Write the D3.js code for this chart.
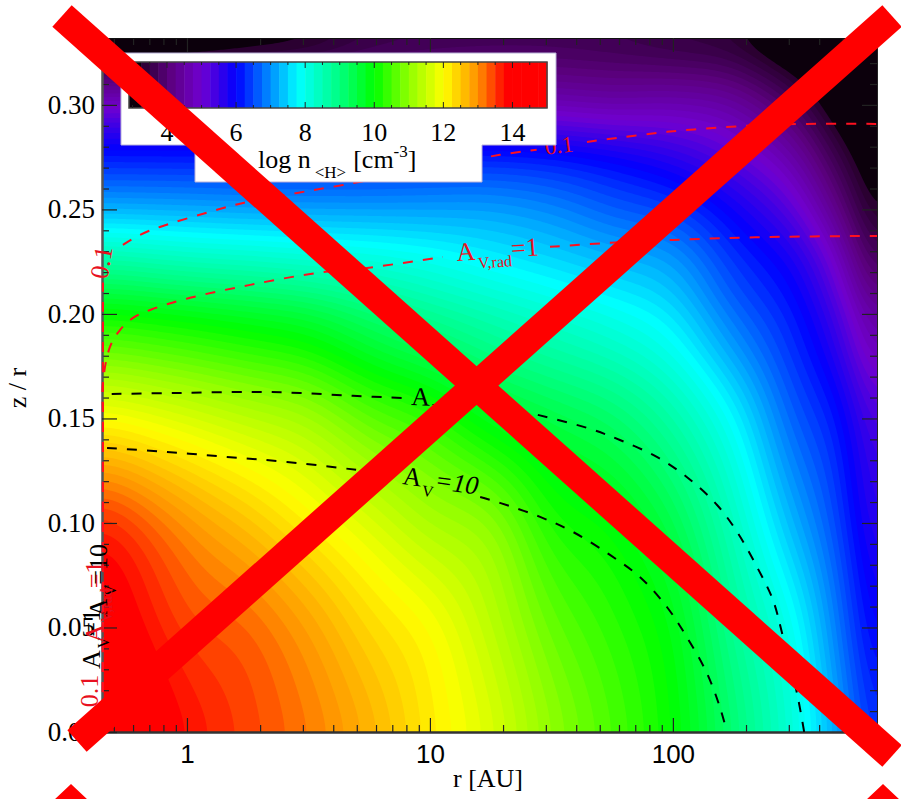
<!DOCTYPE html>
<html>
<head>
<meta charset="utf-8">
<script src="https://cdn.jsdelivr.net/npm/d3@7"></script>
<style>
html, body { margin: 0; padding: 0; background: #fff; }
svg { display: block; }
text { font-family: "Liberation Serif", serif; font-size: 26px; fill: #000; }
</style>
</head>
<body>
<script>
// density: log n at log r (columns) and z/r (rows)
var logRadius = [-0.35, 0, 0.25, 0.5, 0.75, 1, 1.25, 1.5, 1.75, 2, 2.25, 2.5, 2.67, 2.84];
var heights = [0, 0.05, 0.10, 0.15, 0.20, 0.225, 0.25, 0.275, 0.30, 0.332];
var density = [
	[14.3, 13.75, 13.45, 13.13, 12.7, 12.18, 11.68, 11.0, 10.5, 10.0, 9.1, 8.15, 7.2, 6.15],
	[14.05, 13.45, 13.25, 12.85, 12.35, 11.98, 11.4, 10.7, 10.3, 9.85, 8.82, 7.9, 6.9, 5.83],
	[13.6, 12.95, 12.55, 12.11, 11.68, 11.24, 10.97, 10.2, 9.93, 9.4, 8.4, 7.25, 6.53, 5.5],
	[12.0, 11.67, 11.4, 11.15, 10.65, 10.32, 9.8, 9.46, 9.18, 8.63, 7.78, 6.65, 6.16, 5.17],
	[10.08, 9.9, 9.74, 9.56, 9.18, 8.83, 8.53, 8.25, 7.98, 7.62, 6.79, 6.15, 5.45, 4.3],
	[8.7, 8.5, 8.4, 8.28, 8.15, 7.98, 7.75, 7.55, 7.33, 7.1, 6.36, 5.8, 4.95, 3.6],
	[7.25, 7.2, 7.15, 7.13, 7.12, 7.12, 7.11, 6.95, 6.65, 6.43, 5.88, 5.2, 4.25, 3.1],
	[6.15, 6.14, 6.13, 6.13, 6.13, 6.17, 6.19, 6.11, 5.92, 5.63, 5.2, 4.55, 3.6, 2.8],
	[4.9, 4.92, 4.93, 4.88, 4.9, 4.8, 4.75, 4.7, 4.6, 4.65, 4.47, 3.75, 2.95, 2.5],
	[2.6, 2.8, 2.95, 3.1, 3.4, 3.55, 3.6, 3.6, 3.55, 3.4, 3.25, 2.7, 2.5, 2.3]
];

// colour table, stops against log n
var colorValues = [2.9, 3.3, 4.1, 5, 6, 7, 7.8, 9, 10, 11, 12, 13, 13.8, 15];
var colorList = ["#0c000c", "#2a0030", "#5c0080", "#7000d0", "#0000ff", "#0090ff", "#00ffff", "#00ff80", "#00ff00", "#90ff00", "#ffff00", "#ff9000", "#ff0000", "#ff0000"];

var radiusMajor = [1, 10, 100];
var radiusMinor = [0.5, 0.6, 0.7, 0.8, 0.9, 2, 3, 4, 5, 6, 7, 8, 9, 20, 30, 40, 50, 60, 70, 80, 90, 200, 300, 400, 500, 600];
var heightMajor = [0, 0.05, 0.10, 0.15, 0.20, 0.25, 0.30];
var heightLabels = ["0.00", "0.05", "0.10", "0.15", "0.20", "0.25", "0.30"];
var heightMinor = [0.01, 0.02, 0.03, 0.04, 0.06, 0.07, 0.08, 0.09, 0.11, 0.12, 0.13, 0.14, 0.16, 0.17, 0.18, 0.19, 0.21, 0.22, 0.23, 0.24, 0.26, 0.27, 0.28, 0.29, 0.31, 0.32, 0.33];
var barMajor = [4, 6, 8, 10, 12, 14];
var barMinor = [3, 3.5, 4.5, 5, 5.5, 6.5, 7, 7.5, 8.5, 9, 9.5, 10.5, 11, 11.5, 12.5, 13, 13.5, 14.5];

// contour lines as r, z/r; null leaves the gap for the label
var avOneR = [0.49, 0.935, 1.82, 2.92, 4.82, 7.74, null, 27.8, 44.3, 60.5, 85.9, 114, 152, 185, 222, 258, 284, 324, 347];
var avOneZ = [0.1617, 0.1622, 0.1627, 0.1622, 0.1608, 0.1598, null, 0.1517, 0.1455, 0.1397, 0.1316, 0.122, 0.1086, 0.0952, 0.0789, 0.0632, 0.0455, 0.0187, 0];
var avTenR = [0.469, 0.828, 1.46, 2.58, 5.0, null, 16.1, 19.4, 28.4, 38.8, 55.1, 73.1, 94.5, 114, 138, 156, 167];
var avTenZ = [0.1359, 0.134, 0.1316, 0.1292, 0.1254, null, 0.1124, 0.1096, 0.1029, 0.0957, 0.0847, 0.0742, 0.0598, 0.0455, 0.0282, 0.012, 0];
var radTenthR = [0.451, 0.451, 0.451, 0.451, null, 0.545, 0.64, 0.774, 1.33, 1.7, 2.84, 4.39, 19.4, 27.5, null, 44.3, 94.5, 202, 356, 692];
var radTenthZ = [0, 0.1144, 0.1589, 0.215, null, 0.233, 0.2378, 0.2416, 0.2498, 0.2531, 0.2579, 0.2617, 0.2761, 0.2785, null, 0.2823, 0.2871, 0.29, 0.2909, 0.2909];
var radOneR = [0.449, 0.451, 0.451, 0.482, 0.53, 0.6, 0.705, 1.03, 1.82, 3.43, 5.51, 11.3, null, 31.2, 55, 100, 244, 692];
var radOneZ = [0, 0.1493, 0.167, 0.1842, 0.1923, 0.1981, 0.2019, 0.2077, 0.2139, 0.2196, 0.222, 0.2273, null, 0.2321, 0.234, 0.2354, 0.2368, 0.2373];

var w = 901;
var h = 799;
var left = 102;
var right = 877;
var top_ = 38;
var bottom = 732;

var svg = d3.select("body")
			.append("svg")
			.attr("width", w)
			.attr("height", h);

var x = d3.scaleLog().domain([0.447, 692]).range([left, right]);
var y = d3.scaleLinear().domain([0, 0.332]).range([bottom, top_]);
var color = d3.scaleLinear().domain(colorValues).range(colorList).clamp(true);

// --- filled contours, the read-off grid is smoothed onto a fine one
function catmull(a, b, c, d, t) {
	return 0.5 * (2 * b + (c - a) * t + (2 * a - 5 * b + 4 * c - d) * t * t + (3 * b - a - 3 * c + d) * t * t * t);
}
function sample(fx, fy) {
	var nx = logRadius.length, ny = heights.length;
	var ix = Math.min(Math.floor(fx), nx - 2), iy = Math.min(Math.floor(fy), ny - 2);
	var tx = fx - ix, ty = fy - iy, col = [];
	for (var j = -1; j <= 2; j++) {
		var row = density[Math.max(0, Math.min(ny - 1, iy + j))];
		col.push(catmull(row[Math.max(0, ix - 1)], row[ix], row[ix + 1], row[Math.min(nx - 1, ix + 2)], tx));
	}
	return catmull(col[0], col[1], col[2], col[3], ty);
}
var fracX = d3.scaleLinear().domain(logRadius).range(d3.range(logRadius.length)).clamp(true);
var fracY = d3.scaleLinear().domain(heights).range(d3.range(heights.length)).clamp(true);
var gw = Math.round((right - left) / 2);
var gh = Math.round((bottom - top_) / 2);
var values = [];
for (var gy = 0; gy < gh; gy++) {
	for (var gx = 0; gx < gw; gx++) {
		var lr = Math.log10(x.invert(left + (gx + 0.5) * (right - left) / gw));
		var zz = y.invert(top_ + (gy + 0.5) * (bottom - top_) / gh);
		values.push(sample(fracX(lr), fracY(zz)));
	}
}
// takes the wobble of hand reading out of the bands
if (d3.blur2) {
	d3.blur2({data: values, width: gw, height: gh}, 7);
}
var levels = d3.range(3.25, 15, 0.125);
var contours = d3.contours().size([gw, gh]).thresholds(levels)(values);
var toPixels = d3.geoTransform({
	point: function(px, py) {
		this.stream.point(left + px * (right - left) / gw, top_ + py * (bottom - top_) / gh);
	}
});
var path = d3.geoPath(toPixels);

svg.append("rect")
	.attr("x", left)
	.attr("y", top_)
	.attr("width", right - left)
	.attr("height", bottom - top_)
	.attr("fill", color(2.9));

svg.append("g").selectAll("path")
	.data(contours)
	.enter()
	.append("path")
	.attr("d", path)
	.attr("fill", function(d) { return color(d.value + 0.06); });

// --- axes, both sides of the frame, all ticks point into the frame
function drawAxis(axis, tx, ty, lineColor, lineWidth) {
	var g = svg.append("g").attr("transform", "translate(" + tx + "," + ty + ")").call(axis);
	g.select(".domain").attr("stroke", lineColor).attr("stroke-width", lineWidth);
	g.selectAll(".tick line").attr("stroke", "#222").attr("stroke-width", 1.2);
	return g;
}
drawAxis(d3.axisBottom(x).tickValues(radiusMinor).tickSizeInner(-7).tickSizeOuter(0).tickFormat(""), 0, bottom, "#333", 2);
drawAxis(d3.axisTop(x).tickValues(radiusMinor).tickSizeInner(-7).tickSizeOuter(0).tickFormat(""), 0, top_, "#111", 1);
drawAxis(d3.axisRight(y).tickValues(heightMinor).tickSizeInner(7).tickSizeOuter(0).tickFormat(""), left, 0, "#555", 2);
drawAxis(d3.axisLeft(y).tickValues(heightMinor).tickSizeInner(7).tickSizeOuter(0).tickFormat(""), right, 0, "#222", 1);

var bottomMajor = drawAxis(d3.axisBottom(x).tickValues(radiusMajor).tickSizeInner(-14).tickSizeOuter(0).tickFormat(function(d) { return d; }), 0, bottom, "#333", 2);
bottomMajor.selectAll("text")
	.attr("y", 31)
	.attr("dy", 0)
	.style("font-family", '"Liberation Sans", sans-serif')
	.style("font-size", "26px");
drawAxis(d3.axisTop(x).tickValues(radiusMajor).tickSizeInner(-14).tickSizeOuter(0).tickFormat(""), 0, top_, "#111", 1);
drawAxis(d3.axisRight(y).tickValues(heightMajor).tickSizeInner(15).tickSizeOuter(0).tickFormat(""), left, 0, "#555", 2);
drawAxis(d3.axisLeft(y).tickValues(heightMajor).tickSizeInner(15).tickSizeOuter(0).tickFormat(""), right, 0, "#222", 1);

svg.append("g").selectAll("text")
	.data(heightMajor)
	.enter()
	.append("text")
	.attr("x", 95)
	.attr("y", function(d) { return y(d) + 9; })
	.attr("text-anchor", "end")
	.style("font-size", "27px")
	.text(function(d, i) { return heightLabels[i]; });

svg.append("text").attr("x", 488).attr("y", 787).attr("text-anchor", "middle").text("r [AU]");
svg.append("text")
	.attr("transform", "translate(26,388) rotate(-90)")
	.attr("text-anchor", "middle")
	.text("z / r");

// --- dashed lines
function dashed(rs, zs, stroke) {
	var pts = rs.map(function(r, i) { return [r, zs[i]]; });
	var line = d3.line()
		.defined(function(d) { return d[0] !== null; })
		.x(function(d) { return x(d[0]); })
		.y(function(d) { return y(d[1]); })
		.curve(d3.curveCatmullRom);
	svg.append("path")
		.attr("d", line(pts))
		.attr("fill", "none")
		.attr("stroke", stroke)
		.attr("stroke-width", 2)
		.attr("stroke-dasharray", "10,10");
}
dashed(radTenthR, radTenthZ, "#ff1020");
dashed(radOneR, radOneZ, "#ff1020");
dashed(avOneR, avOneZ, "#000");
dashed(avTenR, avTenZ, "#000");

// --- labels on the lines
function avLabel(tx, ty, angle, fill, sub, rest, restStyle) {
	var t = svg.append("text")
		.attr("transform", "translate(" + tx + "," + ty + ") rotate(" + angle + ")")
		.style("fill", fill);
	t.append("tspan").text("A");
	t.append("tspan").attr("dx", 2).attr("dy", 9).style("font-size", "16px").text(sub);
	t.append("tspan").attr("dy", -9).style("font-style", restStyle).text(rest);
}
function plainLabel(tx, ty, angle, fill, size, str) {
	svg.append("text")
		.attr("transform", "translate(" + tx + "," + ty + ") rotate(" + angle + ")")
		.attr("text-anchor", "middle")
		.style("fill", fill)
		.style("font-size", size + "px")
		.text(str);
}
avLabel(411, 405, 2, "#000", "V", "=1", "normal");
avLabel(402, 484, 8, "#000", "V", "=10", "italic");
avLabel(457, 261, -4, "#e81020", "V,rad", "=1", "normal");
plainLabel(560, 153, -7, "#e81020", 23, "0.1");
plainLabel(110, 264, -80, "#e81020", 26, "0.1");
// the labels squeezed against the left edge
plainLabel(98, 691, -90, "#e81020", 26, "0.1");
avLabel(100, 669, -90, "#000", "V", "=1", "normal");
avLabel(107, 617, -90, "#000", "V", "=10", "normal");
avLabel(103, 643, -90, "#e81020", "V,rad", "=1", "normal");

// --- colour bar with its white box
var barLeft = 129, barRight = 547, barTop = 62, barBottom = 108;
var bar = d3.scaleLinear().domain([2.9, 15]).range([barLeft, barRight]);
svg.append("path")
	.attr("d", "M121,53H556V145H482V182H195V145H121Z")
	.attr("fill", "#fff")
	.attr("stroke", "#b8b0d8")
	.attr("stroke-width", 1);
var barLevels = [2.9].concat(d3.range(3.25, 15, 0.25));
svg.append("g").selectAll("rect")
	.data(barLevels)
	.enter()
	.append("rect")
	.attr("x", function(d) { return bar(d); })
	.attr("y", barTop)
	.attr("width", function(d, i) { return bar(i < barLevels.length - 1 ? barLevels[i + 1] : 15) - bar(d) + 0.5; })
	.attr("height", barBottom - barTop)
	.attr("fill", function(d, i) { return i === 0 ? color(2.9) : color(d + 0.125); });
svg.append("rect")
	.attr("x", barLeft)
	.attr("y", barTop)
	.attr("width", barRight - barLeft)
	.attr("height", barBottom - barTop)
	.attr("fill", "none")
	.attr("stroke", "#444")
	.attr("stroke-width", 1.5);
function barTicks(vals, len) {
	var sel = svg.append("g").selectAll("line").data(vals).enter();
	[[barTop, len], [barBottom, -len]].forEach(function(edge) {
		sel.append("line")
			.attr("x1", function(d) { return bar(d); })
			.attr("x2", function(d) { return bar(d); })
			.attr("y1", edge[0])
			.attr("y2", edge[0] + edge[1])
			.attr("stroke", "#222")
			.attr("stroke-width", 1);
	});
}
barTicks(barMajor, 6);
barTicks(barMinor, 3);
svg.append("g").selectAll("text")
	.data(barMajor)
	.enter()
	.append("text")
	.attr("x", function(d) { return bar(d); })
	.attr("y", 141)
	.attr("text-anchor", "middle")
	.text(function(d) { return d; });

var barTitle = svg.append("text").attr("x", 258).attr("y", 168);
barTitle.append("tspan").text("log n");
barTitle.append("tspan").attr("dy", 10).attr("dx", 4).style("font-size", "17px").text("<H>");
barTitle.append("tspan").attr("dy", -10).attr("dx", 7).text("[cm");
barTitle.append("tspan").attr("dy", -11).style("font-size", "17px").text("-3");
barTitle.append("tspan").attr("dy", 11).text("]");

// --- the big cross drawn over everything
var crossLines = [[62, 16, 892, 756], [77, 741, 892, 16]];
svg.append("g").selectAll("line")
	.data(crossLines)
	.enter()
	.append("line")
	.attr("x1", function(d) { return d[0]; })
	.attr("y1", function(d) { return d[1]; })
	.attr("x2", function(d) { return d[2]; })
	.attr("y2", function(d) { return d[3]; })
	.attr("stroke", "#ff0000")
	.attr("stroke-width", 29);
svg.append("path").attr("d", "M71,784L54,800H88Z M883,784L866,800H900Z").attr("fill", "#ff0000");
</script>
</body>
</html>
